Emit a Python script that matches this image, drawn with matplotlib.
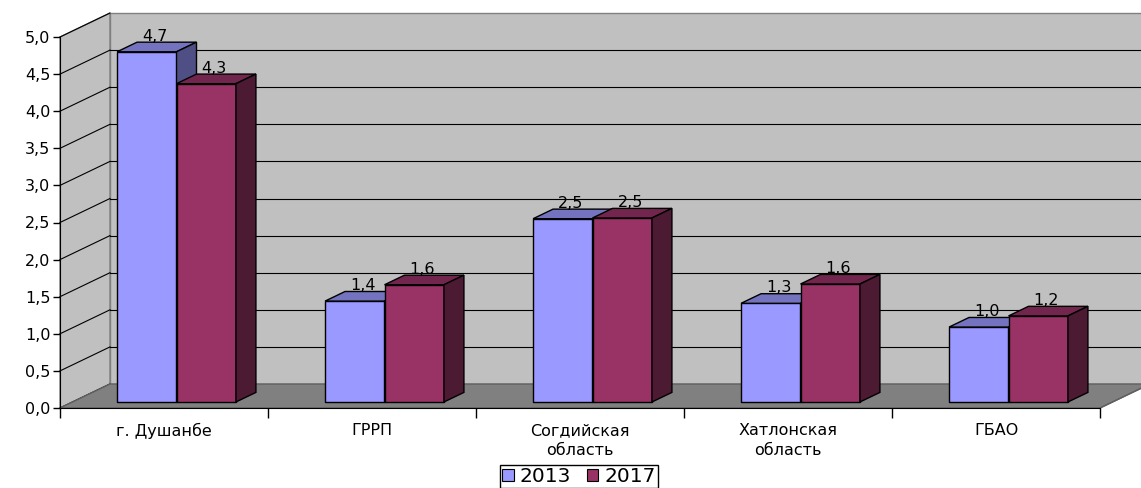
import numpy as np
import matplotlib.pyplot as plt
from matplotlib.patches import Polygon, Patch

# data
regions = ['г. Душанбе', 'ГРРП', 'Согдийская\nобласть', 'Хатлонская\nобласть', 'ГБАО']
v2013 = [4.72, 1.36, 2.47, 1.33, 1.01]
v2017 = [4.29, 1.58, 2.48, 1.59, 1.16]
years = ['2013', '2017']
yticks = np.arange(0, 5.01, 0.5)

plt.rcParams['font.family'] = ['DejaVu Sans']
fs = 11.5

fig = plt.figure(figsize=(11.41, 4.88), dpi=100)
ax = fig.add_axes([60/1141, 80/488, 1040/1141, 371/488])
ax.set_xlim(-0.5, 4.5)
ax.set_ylim(0, 5)

# depth of the fake 3d box, in data units
dx = 50/208
dy = 24/74.2
x0, x1 = -0.5, 4.5

# walls and floor
left_wall = Polygon([(x0, 0), (x0, 5), (x0+dx, 5+dy), (x0+dx, dy)],
                    fc='#C0C0C0', ec='#808080', lw=1, clip_on=False, zorder=0)
back_wall = Polygon([(x0+dx, dy), (x0+dx, 5+dy), (x1+dx, 5+dy), (x1+dx, dy)],
                    fc='#C0C0C0', ec='#808080', lw=1, clip_on=False, zorder=0)
floor = Polygon([(x0, 0), (x1, 0), (x1+dx, dy), (x0+dx, dy)],
                fc='#808080', ec='#606060', lw=1, clip_on=False, zorder=1)
for p in (left_wall, back_wall, floor):
    ax.add_patch(p)

for t in yticks[1:-1]:
    ax.plot([x0+dx, x1+dx], [t+dy, t+dy], color='k', lw=0.8, clip_on=False, zorder=0.5)
for t in yticks:
    ax.plot([x0, x0+dx], [t, t+dy], color='k', lw=0.8, clip_on=False, zorder=0.5)

# bars
w = 0.2857
z0, zd = 0.25, 0.4
colors = [('#9999FF', '#7373C0', '#4F4F85'), ('#993366', '#73264D', '#4D1A33')]
series = [v2013, v2017]
for i in range(len(regions)):
    for j in range(2):
        h = series[j][i]
        fc, tc, sc = colors[j]
        bx = i - w + j*w + z0*dx
        by = z0*dy
        ox, oy = zd*dx, zd*dy
        front = Polygon([(bx, by), (bx+w, by), (bx+w, by+h), (bx, by+h)],
                        fc=fc, ec='k', lw=1, zorder=3)
        top = Polygon([(bx, by+h), (bx+w, by+h), (bx+w+ox, by+h+oy), (bx+ox, by+h+oy)],
                      fc=tc, ec='k', lw=1, zorder=3)
        side = Polygon([(bx+w, by), (bx+w, by+h), (bx+w+ox, by+h+oy), (bx+w+ox, by+oy)],
                       fc=sc, ec='k', lw=1, zorder=3)
        for p in (front, top, side):
            ax.add_patch(p)
        ax.text(bx + w/2 + 0.16*dx, by + h + oy + 0.02, f'{h:.1f}'.replace('.', ','),
                ha='center', va='baseline', fontsize=fs, zorder=5, clip_on=False)

# axes
for s in ('top', 'right'):
    ax.spines[s].set_visible(False)
ax.spines['left'].set_zorder(4)
ax.spines['bottom'].set_zorder(4)
ax.set_yticks(yticks)
ax.set_yticklabels([f'{t:.1f}'.replace('.', ',') for t in yticks])
ax.tick_params(axis='y', direction='out', length=5, width=1, labelsize=fs, pad=2)
ax.set_xticks(range(len(regions)))
ax.set_xticklabels(regions, fontsize=fs, linespacing=1.4)
ax.set_xticks(np.arange(-0.5, 4.6, 1), minor=True)
ax.tick_params(axis='x', which='major', length=0, pad=11)
ax.tick_params(axis='x', which='minor', direction='out', length=7, width=1)
ax.plot([x1, x1+dx], [0, dy], color='#606060', lw=1, clip_on=False, zorder=1)

handles = [Patch(fc=colors[k][0], ec='k', lw=0.8, label=years[k]) for k in range(2)]
leg = fig.legend(handles=handles, loc='lower center', bbox_to_anchor=(579/1141, 0.0),
                 ncol=2, fancybox=False, edgecolor='k', framealpha=1, fontsize=14.5,
                 handlelength=0.55, handleheight=0.55, handletextpad=0.3,
                 columnspacing=0.8, borderpad=0.1, borderaxespad=0.0)
leg.get_frame().set_linewidth(1)

plt.savefig('out.png', dpi=100)
